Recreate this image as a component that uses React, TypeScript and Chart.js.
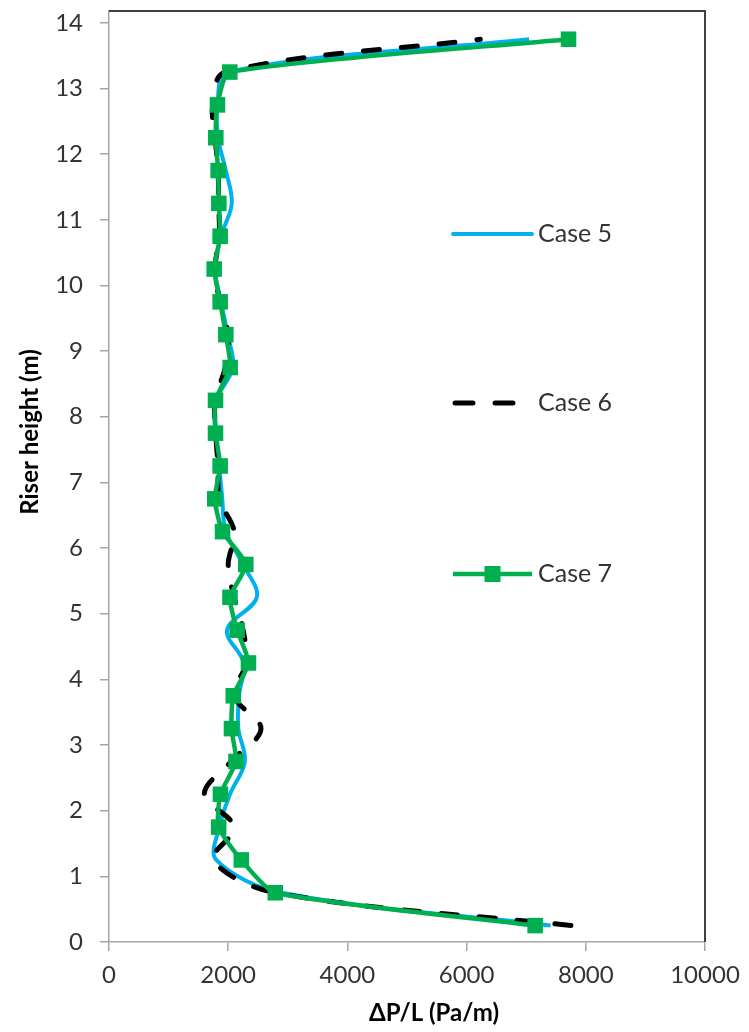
import { useEffect, useRef } from "react";
import { Chart, registerables } from "chart.js";

Chart.register(...registerables);

// Riser heights (m) at which the pressure gradient is sampled
const heights = [
  0.25, 0.75, 1.25, 1.75, 2.25, 2.75, 3.25, 3.75, 4.25, 4.75, 5.25, 5.75, 6.25, 6.75,
  7.25, 7.75, 8.25, 8.75, 9.25, 9.75, 10.25, 10.75, 11.25, 11.75, 12.25, 12.75, 13.25, 13.75,
];

// Pressure gradient ΔP/L (Pa/m) per case
const case5 = [
  7410, 2900, 1800, 1850, 2030, 2280, 2170, 2180, 2260, 1980, 2480, 2250, 1960, 1900,
  1850, 1800, 1800, 2080, 1990, 1880, 1780, 1880, 2060, 1960, 1830, 1820, 1990, 7050,
];
const case6 = [
  7750, 2800, 1750, 2100, 1600, 2050, 2550, 2100, 2300, 2250, 2100, 2000, 2100, 1850,
  1830, 1790, 1780, 1950, 2000, 1860, 1780, 1850, 1840, 1830, 1780, 1740, 1950, 6230,
];
const case7 = [
  7150, 2790, 2220, 1840, 1870, 2130, 2055, 2085, 2340, 2150, 2030, 2295, 1905, 1775,
  1865, 1787, 1787, 2033, 1960, 1865, 1765, 1865, 1843, 1831, 1792, 1820, 2027, 7710,
];

const seriesNames = ["Case 5", "Case 6", "Case 7"];
const xTicks = [0, 2000, 4000, 6000, 8000, 10000];
const yTicks = [0, 1, 2, 3, 4, 5, 6, 7, 8, 9, 10, 11, 12, 13, 14];
const xTitle = "ΔP/L (Pa/m)";
const yTitle = "Riser height (m)";

const BLUE = "#00b0f0";
const BLACK = "#000000";
const GREEN = "#00b050";
const TEXT = "#333333";
const AXIS = "#a6a6a6";
const FONT = "Lato, 'Open Sans', sans-serif";

const toPoints = (xs: number[]) => xs.map((x, i) => ({ x, y: heights[i] }));

// Plot frame (top/right), in-plot legend and axis titles
const decorPlugin = {
  id: "decor",
  afterDatasetsDraw(chart: any) {
    const { ctx, chartArea: a } = chart;
    ctx.save();
    ctx.strokeStyle = "#404040";
    ctx.lineWidth = 2;
    ctx.beginPath();
    ctx.moveTo(a.left, a.top);
    ctx.lineTo(a.right, a.top);
    ctx.lineTo(a.right, a.bottom);
    ctx.stroke();
    ctx.restore();
  },
  afterDraw(chart: any) {
    const { ctx, chartArea: a } = chart;
    ctx.save();
    const lx0 = a.left + 344;
    const lx1 = a.left + 423;
    const tx = a.left + 429;
    const rows = [a.top + 223, a.top + 392, a.top + 563];
    ctx.lineCap = "round";

    // Case 5
    ctx.strokeStyle = BLUE;
    ctx.lineWidth = 4;
    ctx.beginPath();
    ctx.moveTo(lx0, rows[0]);
    ctx.lineTo(lx1, rows[0]);
    ctx.stroke();

    // Case 6
    ctx.strokeStyle = BLACK;
    ctx.lineWidth = 5;
    ctx.setLineDash([18, 22]);
    ctx.beginPath();
    ctx.moveTo(lx0 + 2, rows[1]);
    ctx.lineTo(lx0 + 64, rows[1]);
    ctx.stroke();
    ctx.setLineDash([]);

    // Case 7
    ctx.lineCap = "butt";
    ctx.strokeStyle = GREEN;
    ctx.lineWidth = 4.5;
    ctx.beginPath();
    ctx.moveTo(lx0, rows[2]);
    ctx.lineTo(lx1, rows[2]);
    ctx.stroke();
    ctx.fillStyle = GREEN;
    ctx.fillRect((lx0 + lx1) / 2 - 8, rows[2] - 8, 16, 16);

    ctx.fillStyle = TEXT;
    ctx.font = `25px ${FONT}`;
    ctx.textAlign = "left";
    ctx.textBaseline = "middle";
    seriesNames.forEach((name, i) => ctx.fillText(name, tx, rows[i]));

    // axis titles
    ctx.fillStyle = "#000000";
    ctx.font = `bold 24px ${FONT}`;
    ctx.textAlign = "center";
    ctx.fillText(xTitle, a.left + 325, 1013);
    ctx.translate(30, 432);
    ctx.rotate(-Math.PI / 2);
    ctx.fillText(yTitle, 0, 0);
    ctx.restore();
  },
};

export default function App() {
  const canvasRef = useRef<HTMLCanvasElement | null>(null);

  useEffect(() => {
    const canvas = canvasRef.current;
    if (!canvas) return;
    const chart = new Chart(canvas, {
      type: "scatter",
      data: {
        datasets: [
          {
            label: seriesNames[0],
            data: toPoints(case5),
            showLine: true,
            borderColor: BLUE,
            borderWidth: 4,
            pointRadius: 0,
            tension: 0.35,
            order: 3,
          },
          {
            label: seriesNames[1],
            data: toPoints(case6),
            showLine: true,
            borderColor: BLACK,
            borderWidth: 5,
            borderDash: [16, 22],
            borderCapStyle: "round",
            pointRadius: 0,
            tension: 0.35,
            order: 2,
          },
          {
            label: seriesNames[2],
            data: toPoints(case7),
            showLine: true,
            borderColor: GREEN,
            backgroundColor: GREEN,
            borderWidth: 4.5,
            pointStyle: "rect",
            pointRadius: 11,
            pointBorderWidth: 0,
            pointBackgroundColor: GREEN,
            tension: 0.2,
            order: 1,
          },
        ],
      },
      options: {
        animation: false,
        responsive: false,
        layout: { padding: { top: 10, right: 44, bottom: 0, left: 0 } },
        plugins: { legend: { display: false }, tooltip: { enabled: false } },
        scales: {
          x: {
            type: "linear",
            min: 0,
            max: 10000,
            afterBuildTicks: (scale: any) => {
              scale.ticks = xTicks.map((v) => ({ value: v }));
            },
            afterFit: (scale: any) => {
              scale.height = 90;
              scale.paddingLeft = 0;
              scale.paddingRight = 0;
            },
            ticks: {
              color: TEXT,
              font: { family: FONT, size: 24 },
              padding: 10,
              maxRotation: 0,
              callback: (v: any) => String(v),
            },
            grid: {
              drawOnChartArea: false,
              drawTicks: true,
              tickLength: 9,
              color: AXIS,
              lineWidth: 1.5,
            },
            border: { color: AXIS, width: 1.5 },
          },
          y: {
            type: "linear",
            min: 0,
            max: 14.18,
            afterBuildTicks: (scale: any) => {
              scale.ticks = yTicks.map((v) => ({ value: v }));
            },
            afterFit: (scale: any) => {
              scale.width = 109;
              scale.paddingTop = 0;
              scale.paddingBottom = 0;
            },
            ticks: {
              color: TEXT,
              font: { family: FONT, size: 24 },
              padding: 17,
              callback: (v: any) => String(v),
            },
            grid: {
              drawOnChartArea: false,
              drawTicks: true,
              tickLength: 9,
              color: AXIS,
              lineWidth: 1.5,
            },
            border: { color: AXIS, width: 1.5 },
          },
        },
      },
      plugins: [decorPlugin],
    });
    return () => chart.destroy();
  }, []);

  return (
    <div
      style={{
        position: "absolute",
        left: 0,
        top: 0,
        width: 749,
        height: 1032,
        background: "#ffffff",
      }}
    >
      <canvas ref={canvasRef} width={749} height={1032} style={{ display: "block" }} />
    </div>
  );
}
